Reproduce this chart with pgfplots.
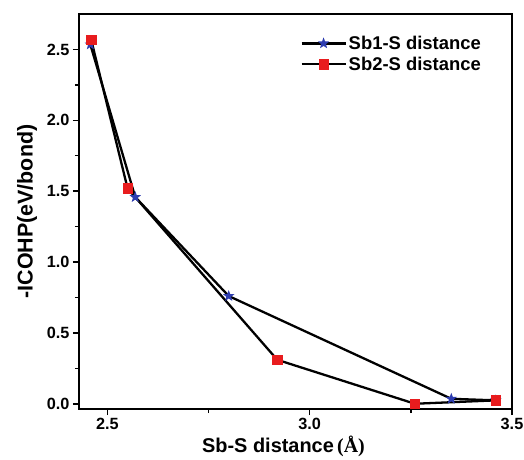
\documentclass[border=0pt]{standalone}
\usepackage{fontspec}
\setmainfont{Liberation Sans}
\newfontfamily\serifA{Liberation Serif}
\usepackage{pgfplots}
\pgfplotsset{compat=1.18}
\definecolor{sbblue}{RGB}{45,60,175}
\definecolor{sbred}{RGB}{232,28,30}
% filled five-pointed star
\pgfdeclareplotmark{fstar}{%
  \pgfpathmoveto{\pgfpointpolar{90}{\pgfplotmarksize}}%
  \pgfpathlineto{\pgfpointpolar{126}{0.42\pgfplotmarksize}}%
  \pgfpathlineto{\pgfpointpolar{162}{\pgfplotmarksize}}%
  \pgfpathlineto{\pgfpointpolar{198}{0.42\pgfplotmarksize}}%
  \pgfpathlineto{\pgfpointpolar{234}{\pgfplotmarksize}}%
  \pgfpathlineto{\pgfpointpolar{270}{0.42\pgfplotmarksize}}%
  \pgfpathlineto{\pgfpointpolar{306}{\pgfplotmarksize}}%
  \pgfpathlineto{\pgfpointpolar{342}{0.42\pgfplotmarksize}}%
  \pgfpathlineto{\pgfpointpolar{18}{\pgfplotmarksize}}%
  \pgfpathlineto{\pgfpointpolar{54}{0.42\pgfplotmarksize}}%
  \pgfpathclose
  \pgfusepathqfill}
\begin{document}
\begin{tikzpicture}
\path[use as bounding box] (-79bp,-51bp) rectangle (445bp,409bp);
\begin{axis}[
  scale only axis,
  width=433bp, height=395bp,
  xmin=2.43, xmax=3.5,
  ymin=-0.037, ymax=2.75,
  xtick={2.5,3.0,3.5},
  ytick={0,0.5,1,1.5,2,2.5},
  minor xtick={2.75,3.25},
  minor ytick={0.25,0.75,1.25,1.75,2.25},
  xticklabel style={/pgf/number format/.cd,fixed,fixed zerofill,precision=1},
  yticklabel style={/pgf/number format/.cd,fixed,fixed zerofill,precision=1},
  /pgf/number format/assume math mode=true,
  tick label style={font=\fontsize{16.3}{16.3}\selectfont\bfseries},
  tick align=outside,
  tick pos=left,
  major tick length=6bp,
  minor tick length=4bp,
  every tick/.style={black,line width=1.5pt},
  axis line style={line width=1.9pt},
  xlabel={Sb-S distance\,{\serifA(Å)}},
  ylabel={-ICOHP(eV/bond)},
  xlabel style={font=\fontsize{20}{20}\selectfont\bfseries,yshift=1bp,xshift=-12bp},
  ylabel style={font=\fontsize{21.5}{21.5}\selectfont\bfseries,yshift=3bp},
  legend style={at={(axis description cs:0.94,0.955)},anchor=north east,
    draw=none,fill=none,font=\fontsize{18.5}{18.5}\selectfont\bfseries,
    row sep=2bp},
  legend cell align=left,
  legend image code/.code={\draw[mark repeat=2,mark phase=2,#1]
    plot coordinates {(0bp,0bp)(22bp,0bp)(44bp,0bp)};},
]
% Sb1-S bonds
\addplot[black,line width=2.3pt,mark=fstar,
  mark options={sbblue},mark size=6bp]
  coordinates {(2.458,2.535) (2.569,1.458) (2.80,0.76) (3.35,0.035) (3.46,0.024)};
\addlegendentry{Sb1-S distance}
% Sb2-S bonds
\addplot[black,line width=2.3pt,mark=square*,
  mark options={sbred,draw=sbred,line width=0.5pt},mark size=4.7bp]
  coordinates {(2.46,2.57) (2.55,1.52) (2.92,0.31) (3.26,0.0) (3.46,0.024)};
\addlegendentry{Sb2-S distance}
\end{axis}
\end{tikzpicture}
\end{document}
